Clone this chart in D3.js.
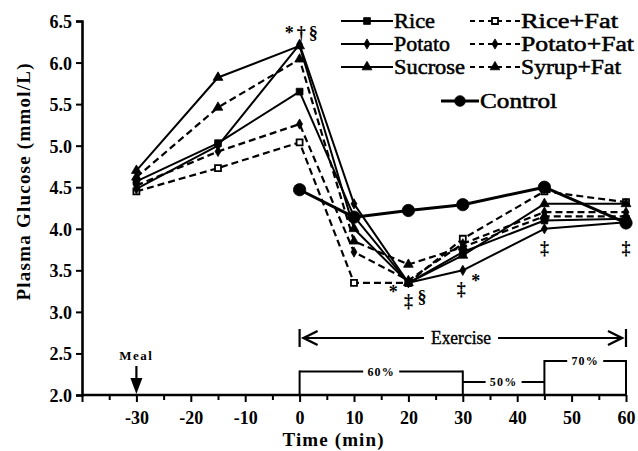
<!DOCTYPE html>
<html><head><meta charset="utf-8">
<script src="https://cdn.jsdelivr.net/npm/d3@7"></script>
<style>
html,body{margin:0;padding:0;background:#fff;}
svg{display:block;font-family:"Liberation Serif","Times New Roman",serif;}
</style></head>
<body><svg id="c" width="638" height="451"></svg>
<script>
// ---- data ----
const times = [-30, -15, 0, 10, 20, 30, 45, 60];
const controlTimes = [0, 10, 20, 30, 45, 60];
const rice      = [4.57, 5.03, 5.65, 4.15, 3.35, 3.72, 4.10, 4.12];
const potato    = [4.48, 5.00, 6.22, 4.30, 3.35, 3.50, 4.00, 4.08];
const sucrose   = [4.70, 5.82, 6.20, 4.00, 3.35, 3.68, 4.30, 4.30];
const riceFat   = [4.45, 4.73, 5.04, 3.35, 3.35, 3.88, 4.45, 4.32];
const potatoFat = [4.52, 4.93, 5.26, 3.72, 3.38, 3.82, 4.20, 4.20];
const syrupFat  = [4.62, 5.46, 6.04, 3.85, 3.57, 3.78, 4.15, 4.15];
const control   = [4.47, 4.14, 4.22, 4.29, 4.50, 4.07];
const seriesNames = ["Rice", "Potato", "Sucrose", "Rice+Fat", "Potato+Fat", "Syrup+Fat", "Control"];
const xTickValues = [-40, -35, -30, -25, -20, -15, -10, -5, 0, 5, 10, 15, 20, 25, 30, 35, 40, 45, 50, 55, 60];
const xTickLabels = ["-30", "-20", "-10", "0", "10", "20", "30", "40", "50", "60"];
const yTickValues = [2.0, 2.5, 3.0, 3.5, 4.0, 4.5, 5.0, 5.5, 6.0, 6.5];
const phaseStart = [0, 30, 45];
const phaseEnd = [30, 45, 60];
const phaseIntensity = [60, 50, 70];
const phaseLabels = ["60%", "50%", "70%"];
const sigMarks = [
  {t: 0.6, v: 6.36, text: "*†§"},
  {t: 17.2, v: 3.24, text: "*"},
  {t: 20, v: 3.13, text: "‡"},
  {t: 22.5, v: 3.18, text: "§"},
  {t: 29.7, v: 3.28, text: "‡"},
  {t: 32.4, v: 3.38, text: "*"},
  {t: 45, v: 3.77, text: "‡"},
  {t: 60, v: 3.77, text: "‡"}
];

const seriesValues = {
  "Rice": rice, "Potato": potato, "Sucrose": sucrose,
  "Rice+Fat": riceFat, "Potato+Fat": potatoFat, "Syrup+Fat": syrupFat, "Control": control
};
const seriesTimes = name => name === "Control" ? controlTimes : times;

// ---- styles ----
const style = {
  "Rice":       {dash: null,  sym: d3.symbolSquare,   size: 46, open: false, w: 2},
  "Potato":     {dash: null,  sym: d3.symbolDiamond,  size: 30, open: false, w: 2},
  "Sucrose":    {dash: null,  sym: d3.symbolTriangle, size: 42, open: false, w: 2},
  "Rice+Fat":   {dash: "7,4", sym: d3.symbolSquare,   size: 36, open: true,  w: 2.2},
  "Potato+Fat": {dash: "7,4", sym: d3.symbolDiamond,  size: 30, open: false, w: 2.2},
  "Syrup+Fat":  {dash: "7,4", sym: d3.symbolTriangle, size: 40, open: false, w: 2.2},
  "Control":    {dash: null,  sym: d3.symbolCircle,   size: 120, open: false, w: 3}
};

const svg = d3.select("#c");
const x = d3.scaleLinear().domain([-40, 60]).range([82, 626]);
const y = d3.scaleLinear().domain([2, 6.5]).range([395, 21]);

// axes
const xAxis = d3.axisBottom(x).tickValues(xTickValues)
  .tickFormat(d => xTickLabels.includes(String(d)) ? String(d) : "")
  .tickSizeOuter(0).tickPadding(10);
const gx = svg.append("g").attr("transform", `translate(0,${y(2)})`).call(xAxis);
gx.select(".domain").attr("stroke-width", 2.6).attr("d", `M${x(-40)},0H${x(60)}`);
gx.selectAll(".tick line").attr("stroke-width", 2).attr("y2", d => d % 10 === 0 ? 7 : 5);
gx.selectAll(".tick text").attr("font-family", "Liberation Serif").attr("font-weight", "bold")
  .attr("font-size", 18).attr("fill", "#000");

const yAxis = d3.axisLeft(y).tickValues(yTickValues).tickFormat(d3.format(".1f"))
  .tickSizeOuter(0).tickSize(6).tickPadding(4);
const gy = svg.append("g").attr("transform", `translate(${x(-40)},0)`).call(yAxis);
gy.select(".domain").attr("stroke-width", 2.6);
gy.selectAll(".tick line").attr("stroke-width", 2);
gy.selectAll(".tick text").attr("font-family", "Liberation Serif").attr("font-weight", "bold")
  .attr("font-size", 18).attr("fill", "#000").attr("dy", "0.36em");

// axis titles
svg.append("text").attr("x", 333).attr("y", 446).attr("text-anchor", "middle")
  .attr("font-weight", "bold").attr("font-size", 19).attr("textLength", 101)
  .text("Time (min)");
svg.append("text").attr("transform", `translate(30,${182}) rotate(-90)`).attr("text-anchor", "middle")
  .attr("font-weight", "bold").attr("font-size", 19).attr("textLength", 237)
  .text("Plasma Glucose (mmol/L)");

// series lines
const line = d3.line().x(d => x(d[0])).y(d => y(d[1]));
const drawOrder = ["Rice+Fat", "Potato+Fat", "Syrup+Fat", "Rice", "Potato", "Sucrose", "Control"];
drawOrder.forEach(name => {
  const s = style[name];
  const pts = seriesTimes(name).map((t, i) => [t, seriesValues[name][i]]);
  svg.append("path").attr("d", line(pts)).attr("fill", "none").attr("stroke", "#000")
    .attr("stroke-width", s.w).attr("stroke-dasharray", s.dash).attr("stroke-linejoin", "round");
  svg.selectAll(null).data(pts).enter().append("path")
    .attr("d", d3.symbol().type(s.sym).size(s.size))
    .attr("transform", d => `translate(${x(d[0])},${y(d[1])})`)
    .attr("fill", s.open ? "#fff" : "#000").attr("stroke", "#000").attr("stroke-width", s.open ? 1.8 : 0.8);
});

// significance marks
svg.selectAll(null).data(sigMarks).enter().append("text")
  .attr("x", d => x(d.t)).attr("y", d => y(d.v)).attr("dy", "0.35em").attr("text-anchor", "middle")
  .attr("font-weight", "bold").attr("font-size", 18).attr("fill", "#000")
  .attr("letter-spacing", d => d.text.length > 1 ? 3 : 0).text(d => d.text);

// legend
const legendPos = {
  "Rice": [341, 21], "Potato": [341, 44], "Sucrose": [341, 67],
  "Rice+Fat": [470, 21], "Potato+Fat": [470, 44], "Syrup+Fat": [470, 67], "Control": [441, 101]
};
const legendTextLen = {"Rice": 41, "Potato": 56, "Sucrose": 71, "Rice+Fat": 97, "Potato+Fat": 113, "Syrup+Fat": 100, "Control": 77};
seriesNames.forEach(name => {
  const s = style[name];
  const [lx, ly] = legendPos[name];
  const len = name === "Control" ? 38 : (s.dash ? 50 : 52);
  svg.append("line").attr("x1", lx).attr("x2", lx + len).attr("y1", ly).attr("y2", ly)
    .attr("stroke", "#000").attr("stroke-width", name === "Control" ? 3 : 2)
    .attr("stroke-dasharray", s.dash ? "5,4" : null);
  svg.append("path").attr("d", d3.symbol().type(s.sym).size(name === "Control" ? 90 : s.size))
    .attr("transform", `translate(${lx + len / 2},${ly})`)
    .attr("fill", s.open ? "#fff" : "#000").attr("stroke", "#000").attr("stroke-width", s.open ? 1.8 : 0.8);
  svg.append("text").attr("x", lx + len + 1).attr("y", ly).attr("dy", "0.33em")
    .attr("font-size", 20).attr("fill", "#000").attr("stroke", "#000").attr("stroke-width", 0.5)
    .attr("textLength", legendTextLen[name]).attr("lengthAdjust", "spacingAndGlyphs")
    .text(name);
});

// Exercise arrow
const ey = 338;
const ex0 = x(0), ex1 = x(60);
svg.append("line").attr("x1", ex0).attr("x2", ex0).attr("y1", ey - 9).attr("y2", ey + 9).attr("stroke", "#000").attr("stroke-width", 2.2);
svg.append("line").attr("x1", ex1).attr("x2", ex1).attr("y1", ey - 9).attr("y2", ey + 9).attr("stroke", "#000").attr("stroke-width", 2.2);
svg.append("line").attr("x1", ex0 + 3).attr("x2", 424).attr("y1", ey).attr("y2", ey).attr("stroke", "#000").attr("stroke-width", 2);
svg.append("line").attr("x1", 498).attr("x2", ex1 - 3).attr("y1", ey).attr("y2", ey).attr("stroke", "#000").attr("stroke-width", 2);
svg.append("path").attr("d", `M${ex0 + 18},${ey - 7}L${ex0 + 4},${ey}L${ex0 + 18},${ey + 7}`).attr("fill", "none").attr("stroke", "#000").attr("stroke-width", 2.4);
svg.append("path").attr("d", `M${ex1 - 18},${ey - 7}L${ex1 - 4},${ey}L${ex1 - 18},${ey + 7}`).attr("fill", "none").attr("stroke", "#000").attr("stroke-width", 2.4);
svg.append("text").attr("x", 461).attr("y", ey).attr("dy", "0.33em").attr("text-anchor", "middle")
  .attr("font-size", 19).attr("fill", "#000").attr("stroke", "#000").attr("stroke-width", 0.4)
  .attr("textLength", 60).attr("lengthAdjust", "spacingAndGlyphs").text("Exercise");

// Intensity steps
const yi = d3.scaleLinear().domain([50, 70]).range([382, 361]);
const base = y(2);
const labelW = [28, 28, 28];
phaseStart.forEach((t0, i) => {
  const t1 = phaseEnd[i];
  const ly = yi(phaseIntensity[i]);
  const cx = (x(t0) + x(t1)) / 2;
  const half = labelW[i] / 2 + 4;
  svg.append("line").attr("x1", x(t0)).attr("x2", cx - half).attr("y1", ly).attr("y2", ly).attr("stroke", "#000").attr("stroke-width", 2);
  svg.append("line").attr("x1", cx + half).attr("x2", x(t1)).attr("y1", ly).attr("y2", ly).attr("stroke", "#000").attr("stroke-width", 2);
  svg.append("text").attr("x", cx).attr("y", ly).attr("dy", "0.35em").attr("text-anchor", "middle")
    .attr("font-weight", "bold").attr("font-size", 12).attr("letter-spacing", 1.2).attr("fill", "#000").text(phaseLabels[i]);
});
[0, 30, 45, 60].forEach((t, i) => {
  const levels = [];
  if (i > 0) levels.push(yi(phaseIntensity[i - 1]));
  if (i < 3) levels.push(yi(phaseIntensity[i]));
  svg.append("line").attr("x1", x(t)).attr("x2", x(t)).attr("y1", d3.min(levels) - 1).attr("y2", base)
    .attr("stroke", "#000").attr("stroke-width", 2);
});

// Meal arrow
const mx = x(-30);
svg.append("text").attr("x", mx).attr("y", 355).attr("dy", "0.35em").attr("text-anchor", "middle")
  .attr("font-weight", "bold").attr("font-size", 13).attr("letter-spacing", 1.5).attr("fill", "#000").text("Meal");
svg.append("line").attr("x1", mx).attr("x2", mx).attr("y1", 366).attr("y2", 380).attr("stroke", "#000").attr("stroke-width", 2.2);
svg.append("path").attr("d", `M${mx - 6},${378}L${mx + 6},${378}L${mx},${394}Z`).attr("fill", "#000");
</script></body></html>
